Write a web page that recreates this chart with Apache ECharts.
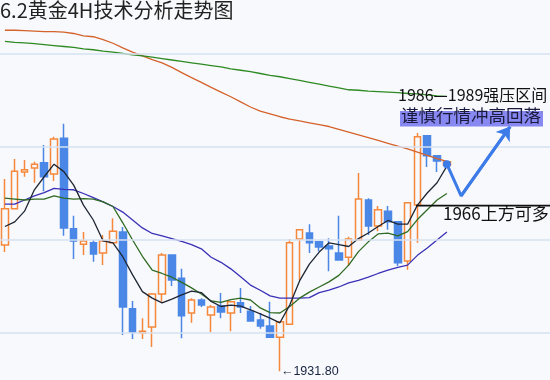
<!DOCTYPE html>
<html>
<head>
<meta charset="utf-8">
<script src="https://cdn.jsdelivr.net/npm/echarts@6/dist/echarts.min.js"></script>
<style>
html,body{margin:0;padding:0;background:#f8f9fd;}
#chart{width:550px;height:380px;}
</style>
</head>
<body>
<div id="chart"></div>
<script>
// ---- data (4H bars) ----
const categories = Array.from({length: 56}, (_, i) => String(i + 1));
// [open, close, low, high]
const candles = [
  [1958.9,1966.7,1957.4,1973.1],[1966.7,1974.8,1966.7,1977.4],[1974.6,1975.1,1973.6,1977.2],
  [1975.5,1976.3,1972.3,1976.8],[1976.6,1973.6,1970.5,1980.4],[1974.2,1981.7,1972.7,1982.2],
  [1981.9,1962.6,1960.9,1985.0],[1962.4,1959.8,1955.9,1965.2],[1959.1,1959.8,1956.8,1961.7],
  [1959.4,1957.0,1955.3,1960.0],[1957.2,1959.8,1954.6,1961.1],[1959.4,1961.9,1959.4,1964.7],
  [1961.7,1945.6,1939.6,1962.8],[1945.2,1940.2,1938.7,1946.9],[1940.0,1940.4,1938.7,1943.2],
  [1941.3,1948.4,1937.0,1948.6],[1948.4,1956.8,1946.7,1957.2],[1956.8,1951.4,1950.1,1956.8],
  [1951.8,1943.7,1938.9,1953.8],[1944.3,1947.1,1942.2,1947.5],[1947.1,1946.0,1945.6,1947.5],
  [1943.9,1945.6,1940.2,1946.0],[1945.8,1944.5,1943.2,1948.6],[1944.3,1946.7,1940.4,1946.7],
  [1946.5,1945.6,1944.3,1949.7],[1944.7,1942.6,1942.4,1945.8],[1942.8,1941.5,1940.9,1944.3],
  [1941.5,1939.1,1939.1,1946.7],[1939.1,1942.4,1931.8,1942.4],[1941.9,1959.4,1941.9,1960.2],
  [1960.2,1962.2,1951.4,1962.2],[1961.5,1959.4,1957.2,1963.4],[1959.6,1958.5,1957.6,1959.8],
  [1958.7,1958.1,1953.3,1960.4],[1957.2,1955.7,1955.7,1965.2],[1956.3,1960.2,1954.4,1960.7],
  [1960.0,1968.8,1960.0,1974.4],[1968.6,1963.0,1961.1,1969.0],[1963.0,1966.5,1961.9,1967.3],
  [1966.2,1963.9,1962.2,1967.3],[1963.9,1955.1,1954.4,1963.9],[1955.5,1968.0,1953.6,1968.0],
  [1967.5,1982.2,1959.4,1983.0],[1982.4,1978.1,1975.7,1982.6],[1978.1,1977.0,1974.6,1978.3],
  [1976.1,1976.8,1975.9,1977.0]
];
const maFast = [1962.9,1963.9,1966.2,1970.8,1973.6,1976.3,1974.7,1971.8,1967.5,1964.3,1959.8,1959.4,
  1956.4,1952.5,1948.9,1947.5,1946.5,1947.3,1948.2,1949.0,1948.7,1946.8,1945.7,1946.0,1945.8,1945.0,
  1944.1,1943.2,1942.2,1946.0,1951.2,1954.8,1957.4,1959.4,1959.0,1958.6,1960.3,1961.5,1962.9,1964.2,
  1963.4,1963.4,1967.5,1970.1,1972.3,1975.9];
const maMid = [1969.0,1968.8,1968.6,1968.8,1968.8,1969.5,1969.0,1968.8,1968.9,1968.8,1968.2,1967.2,
  1963.7,1960.0,1956.5,1953.5,1952.8,1952.0,1950.9,1949.7,1948.4,1946.9,1946.6,1947.2,1947.5,1947.1,
  1945.4,1944.4,1944.3,1945.7,1947.5,1948.8,1949.9,1951.0,1952.4,1954.6,1957.5,1959.6,1961.3,1961.5,
  1960.9,1961.8,1964.4,1966.5,1968.6,1970.0];
const maSlow = [1967.7,1967.7,1968.6,1969.5,1970.2,1971.1,1970.9,1970.8,1970.0,1969.1,1968.2,1967.2,
  1966.0,1964.3,1962.6,1961.4,1960.9,1960.3,1959.7,1959.0,1958.1,1956.3,1955.2,1953.8,1952.1,1950.3,
  1949.2,1948.0,1947.5,1947.5,1947.5,1947.6,1948.7,1949.2,1949.9,1950.8,1951.3,1952.0,1952.8,1953.5,
  1954.1,1954.6,1956.7,1958.3,1960.0,1961.7];
const maLongA = [2005.1,2005.1,2005.0,2004.9,2004.8,2004.8,2004.7,2004.4,2003.9,2003.7,2003.1,2002.3,
  2001.3,2000.4,1999.6,1998.8,1998.1,1997.1,1996.0,1994.9,1993.9,1992.8,1991.8,1990.8,1989.7,1988.6,
  1987.7,1987.1,1986.5,1986.0,1985.6,1985.2,1984.8,1984.4,1983.8,1983.2,1982.6,1982.0,1981.4,1980.8,
  1980.2,1979.6,1978.9,1978.2,1977.5,1976.9];
const maLongB = [2002.7,2002.5,2002.4,2002.2,2002.0,2001.8,2001.6,2001.4,2001.1,2000.9,2000.6,2000.4,
  2000.1,1999.8,1999.6,1999.3,1999.0,1998.7,1998.4,1998.1,1997.8,1997.5,1997.2,1996.8,1996.5,1996.2,
  1995.8,1995.4,1995.1,1994.7,1994.3,1993.9,1993.5,1993.1,1992.7,1992.3,1992.2,1992.0,1991.9,1991.8,
  1991.7,1991.5,1991.4,1991.2,1991.0,1990.9];
// forecast path [bar position, price]
const forecastPath = [[45, 1976.3], [46.45, 1969.5], [51.44, 1984.4]];
const supportLevel = 1967.4;          // drawn level of "1966上方可多"
const supportFrom = 41.86, supportTo = 55.5;
const lowIndex = 28, lowValue = 1931.8;
const gridLevels = [1940, 1960, 1980, 2000];
const yRange = {min: 1929.9, max: 2011.6};

const titleText = '6.2黄金4H技术分析走势图';
const resistText = '1986—1989强压区间';
const warnText = '谨慎行情冲高回落';
const supportText = '1966上方可多';

const ORANGE = '#f5883a', BLUE = '#4a87e6';
const CJK = '"Noto Sans CJK SC", "Noto Sans", sans-serif';

const chart = echarts.init(document.getElementById('chart'), null, {renderer: 'canvas'});
chart.setOption({
  backgroundColor: '#f8f9fd',
  animation: false,
  grid: {left: 0, right: 0, top: 0, bottom: 0, containLabel: false},
  xAxis: [
    {type: 'category', data: categories, boundaryGap: true, show: false},
    {type: 'value', min: -0.5, max: 55.5, show: false}
  ],
  yAxis: {
    type: 'value', min: yRange.min, max: yRange.max,
    axisLabel: {show: false}, axisLine: {show: false}, axisTick: {show: false},
    splitLine: {show: false}
  },
  series: [
    {
      type: 'line', data: [], z: 1, silent: true,
      markLine: {
        silent: true, symbol: 'none', label: {show: false},
        lineStyle: {color: '#d6e1f1', width: 1.5, type: 'solid'},
        data: gridLevels.map(v => ({yAxis: v}))
      }
    },
    {
      type: 'candlestick', data: candles.map(c => [c[0], c[1], c[2], c[3]]),
      barWidth: 7, z: 2,
      itemStyle: {color: 'transparent', color0: BLUE, borderColor: ORANGE, borderColor0: BLUE, borderWidth: 1.5},
      markPoint: {
        symbol: 'circle', symbolSize: 0, silent: true,
        data: [{coord: [lowIndex, lowValue], value: lowValue}],
        label: {show: true, position: 'right', distance: 1, formatter: '←1931.80',
          color: '#16233f', fontSize: 12.5, fontFamily: '"Liberation Sans", sans-serif'}
      }
    },
    {type: 'line', data: maLongA, symbol: 'none', z: 3, lineStyle: {color: '#d4622a', width: 1.3}},
    {type: 'line', data: maLongB, symbol: 'none', z: 3, lineStyle: {color: '#2e8a22', width: 1.3}},
    {type: 'line', data: maSlow, symbol: 'none', z: 3, lineStyle: {color: '#3a30b6', width: 1.3}},
    {type: 'line', data: maMid, symbol: 'none', z: 3, lineStyle: {color: '#2f6a22', width: 1.3}},
    {type: 'line', data: maFast, symbol: 'none', z: 4, lineStyle: {color: '#1e2633', width: 1.3}},
    {
      type: 'line', xAxisIndex: 1, z: 5,
      data: [[supportFrom, supportLevel], [supportTo, supportLevel]],
      symbol: 'none', lineStyle: {color: '#111111', width: 1.6}
    },
    {
      type: 'line', xAxisIndex: 1, z: 6,
      data: forecastPath.map((p, i) => ({value: p, symbol: i === 0 ? 'circle' : 'none', symbolSize: 8})),
      itemStyle: {color: '#3d7ce8'},
      lineStyle: {color: '#3d7ce8', width: 3},
      markLine: {
        silent: true, symbol: ['none', 'arrow'], symbolSize: 13,
        label: {show: false},
        lineStyle: {color: '#3d7ce8', width: 3, type: 'solid'},
        data: [[{coord: forecastPath[1]}, {coord: forecastPath[2]}]]
      }
    }
  ],
  graphic: [
    {type: 'text', left: 0, top: 0, z: 100,
      style: {text: titleText, font: '20px ' + CJK, fill: '#222222'}},
    {type: 'text', left: 398, top: 87, z: 100,
      style: {text: resistText, font: '16px ' + CJK, fill: '#111111'}},
    {type: 'rect', z: 99, shape: {x: 400, y: 111, width: 143, height: 15.5},
      style: {fill: '#8888f2'}},
    {type: 'text', left: 401, top: 107, z: 100,
      style: {text: warnText, font: '17.5px ' + CJK, fill: '#1a1a3c'}},
    {type: 'text', left: 443, top: 205, z: 100,
      style: {text: supportText, font: '17px ' + CJK, fill: '#111111'}}
  ]
});
</script>
</body>
</html>
